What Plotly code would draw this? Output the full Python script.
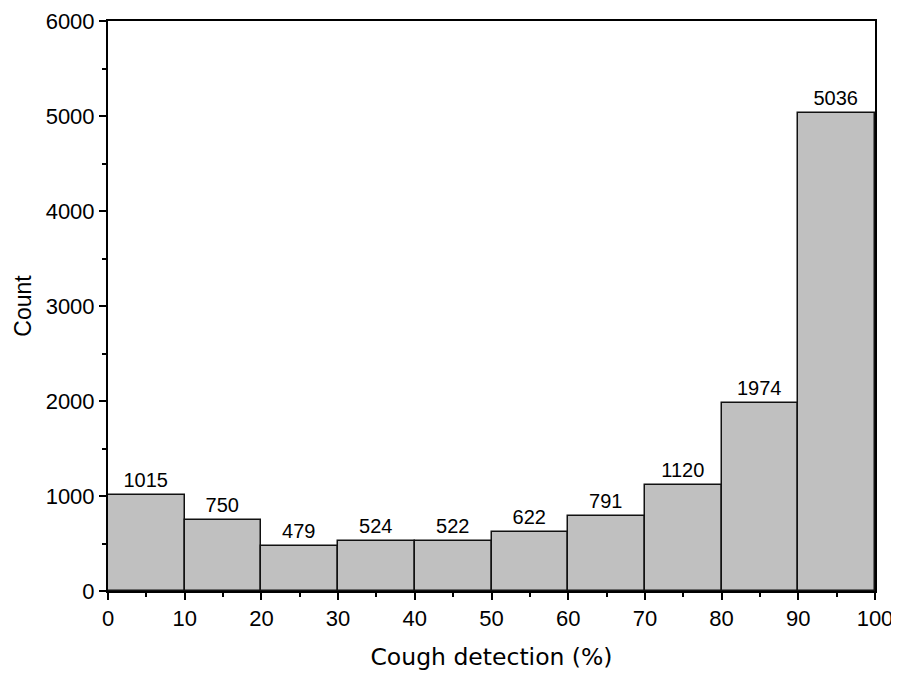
import plotly.graph_objects as go

bin_starts = [0, 10, 20, 30, 40, 50, 60, 70, 80, 90]
counts = [1015, 750, 479, 524, 522, 622, 791, 1120, 1974, 5036]
bin_width = 10
x_ticks = [0, 10, 20, 30, 40, 50, 60, 70, 80, 90, 100]
y_ticks = [0, 1000, 2000, 3000, 4000, 5000, 6000]

centers = [s + bin_width / 2 for s in bin_starts]

fig = go.Figure(
    go.Bar(
        x=centers,
        y=counts,
        width=bin_width,
        marker=dict(color="#c0c0c0", line=dict(color="#111111", width=1.5)),
        text=[str(c) for c in counts],
        textposition="outside",
        textfont=dict(family="Liberation Sans, Arial", size=20, color="black"),
        cliponaxis=False,
    )
)

axis_common = dict(
    showgrid=False,
    zeroline=False,
    showline=True,
    linecolor="black",
    linewidth=2,
    mirror=True,
    ticks="outside",
    ticklen=7,
    tickwidth=2,
    tickcolor="black",
    automargin=False,
    ticklabeloverflow="allow",
    tickfont=dict(family="Liberation Sans, Arial", size=22, color="black"),
)

fig.update_xaxes(
    range=[0, 100],
    tickvals=x_ticks,
    minor=dict(dtick=5, ticks="outside", ticklen=4, tickwidth=1.5, tickcolor="black", tick0=0),
    title=dict(text="Cough detection (%)", font=dict(family="DejaVu Sans", size=23.5, color="black"), standoff=21),
    **axis_common,
)
fig.update_yaxes(
    range=[0, 6000],
    tickvals=y_ticks,
    minor=dict(dtick=500, ticks="outside", ticklen=4, tickwidth=1.5, tickcolor="black", tick0=0),
    title=dict(text="Count", font=dict(family="Liberation Sans, Arial", size=23, color="black"), standoff=8),
    **axis_common,
)

# page body has an 8px margin, so the figure is shrunk and the margins shifted
fig.update_layout(
    width=891,
    height=663,
    showlegend=False,
    plot_bgcolor="white",
    paper_bgcolor="white",
    bargap=0,
    margin=dict(l=100, r=24, t=13, b=80),
)

fig.write_html("out.html")
